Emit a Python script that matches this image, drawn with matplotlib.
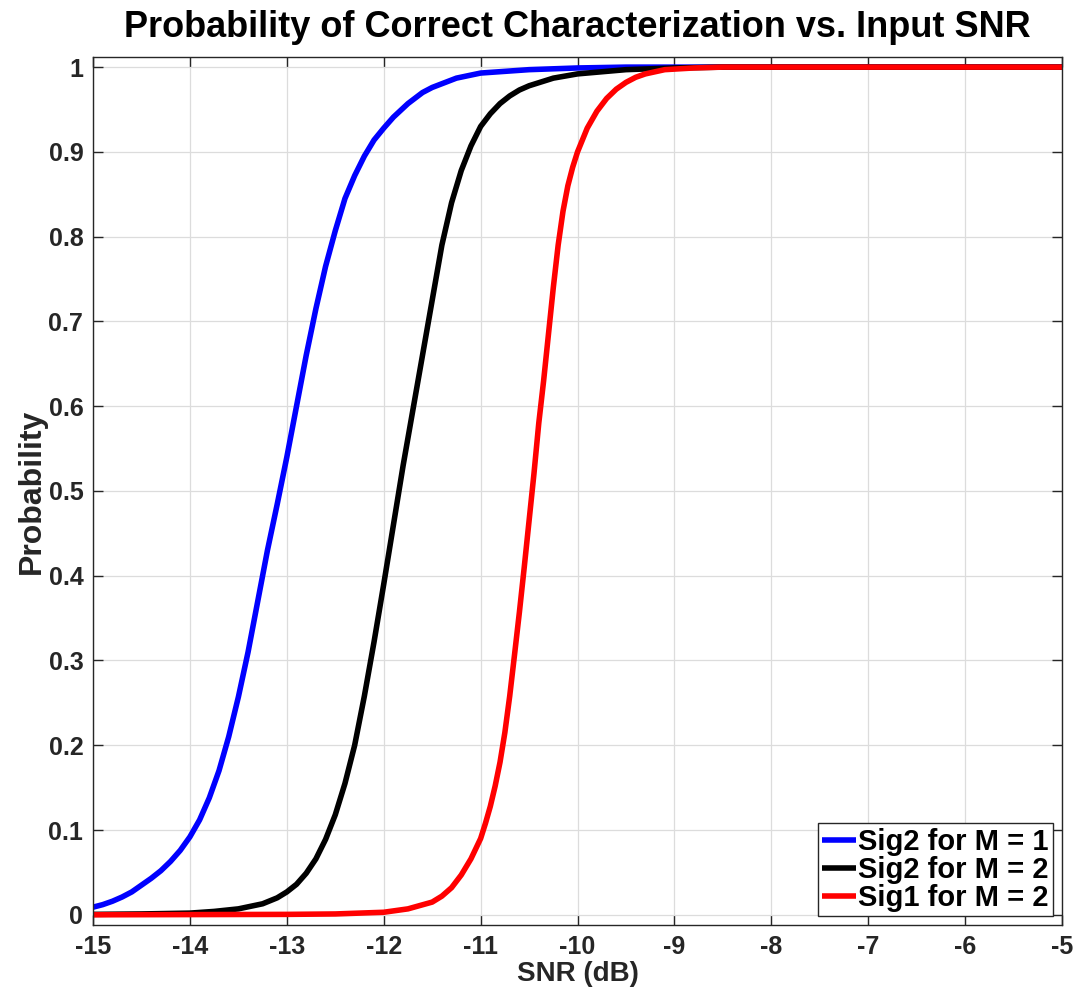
import matplotlib
matplotlib.use("Agg")
import matplotlib.pyplot as plt

# curvas (SNR en dB, probabilidad)
snr_sig2_m1 = [-15.0, -14.9, -14.8, -14.7, -14.6, -14.5, -14.4, -14.3, -14.2, -14.1,
               -14.0, -13.9, -13.8, -13.7, -13.6, -13.5, -13.4, -13.3, -13.2, -13.1,
               -13.0, -12.9, -12.8, -12.7, -12.6, -12.5, -12.4, -12.3, -12.2, -12.1,
               -12.0, -11.9, -11.75, -11.6, -11.5, -11.25, -11.0, -10.75, -10.5,
               -10.0, -9.5, -9.0, -5.0]
prob_sig2_m1 = [0.009, 0.012, 0.016, 0.021, 0.027, 0.035, 0.043, 0.052, 0.063, 0.076,
                0.092, 0.112, 0.138, 0.17, 0.21, 0.257, 0.31, 0.37, 0.43, 0.484,
                0.54, 0.6, 0.66, 0.715, 0.765, 0.807, 0.845, 0.872, 0.895, 0.914,
                0.928, 0.941, 0.957, 0.97, 0.976, 0.987, 0.993, 0.995, 0.997,
                0.999, 1.0, 1.0, 1.0]

snr_sig2_m2 = [-15.0, -14.5, -14.0, -13.75, -13.5, -13.25, -13.1, -13.0, -12.9, -12.8,
               -12.7, -12.6, -12.5, -12.4, -12.3, -12.2, -12.1, -12.0, -11.9, -11.8,
               -11.7, -11.6, -11.5, -11.4, -11.3, -11.2, -11.1, -11.0, -10.9, -10.8,
               -10.7, -10.6, -10.5, -10.25, -10.0, -9.5, -9.0, -8.5, -5.0]
prob_sig2_m2 = [0.0005, 0.001, 0.002, 0.004, 0.007, 0.013, 0.02, 0.027, 0.036, 0.049,
                0.066, 0.089, 0.118, 0.155, 0.2, 0.258, 0.322, 0.39, 0.46, 0.53,
                0.595, 0.66, 0.725, 0.79, 0.84, 0.878, 0.907, 0.93, 0.945, 0.957,
                0.966, 0.973, 0.978, 0.987, 0.992, 0.997, 0.999, 1.0, 1.0]

snr_sig1_m2 = [-15.0, -13.0, -12.5, -12.0, -11.75, -11.5, -11.4, -11.3, -11.2, -11.1,
               -11.0, -10.95, -10.9, -10.85, -10.8, -10.75, -10.7, -10.65, -10.6, -10.55,
               -10.5, -10.45, -10.4, -10.35, -10.3, -10.25, -10.2, -10.15, -10.1, -10.05,
               -10.0, -9.9, -9.8, -9.7, -9.6, -9.5, -9.4, -9.3, -9.1, -8.8, -8.5, -5.0]
prob_sig1_m2 = [0.0, 0.0005, 0.001, 0.003, 0.007, 0.015, 0.022, 0.032, 0.047, 0.066,
                0.09, 0.108, 0.128, 0.152, 0.18, 0.215, 0.258, 0.307, 0.357, 0.41,
                0.465, 0.52, 0.58, 0.63, 0.685, 0.74, 0.79, 0.83, 0.86, 0.882,
                0.9, 0.928, 0.948, 0.963, 0.974, 0.982, 0.988, 0.992, 0.997, 0.999,
                1.0, 1.0]

etiquetas = ['Sig2 for M = 1', 'Sig2 for M = 2', 'Sig1 for M = 2']
colores = ['#0000ff', '#000000', '#ff0000']

x_ticks = list(range(-15, -4))
y_ticks = [0, 0.1, 0.2, 0.3, 0.4, 0.5, 0.6, 0.7, 0.8, 0.9, 1]
y_tick_labels = ['0', '0.1', '0.2', '0.3', '0.4', '0.5', '0.6', '0.7', '0.8', '0.9', '1']

plt.rcParams['font.family'] = ['Liberation Sans', 'DejaVu Sans']
plt.rcParams['font.weight'] = 'bold'

gris = '#262626'

fig = plt.figure(figsize=(10.78, 9.99), dpi=100)
ax = fig.add_axes([0.0863, 0.0741, 0.8989, 0.8689])

series = [(snr_sig2_m1, prob_sig2_m1), (snr_sig2_m2, prob_sig2_m2), (snr_sig1_m2, prob_sig1_m2)]
for (xs, ys), etiqueta, color in zip(series, etiquetas, colores):
    ax.plot(xs, ys, color=color, linewidth=4, label=etiqueta,
            solid_capstyle='butt', solid_joinstyle='round')

ax.set_xlim(-15, -5)
ax.set_ylim(-0.012, 1.012)
ax.set_xticks(x_ticks)
ax.set_xticklabels([str(t) for t in x_ticks])
ax.set_yticks(y_ticks)
ax.set_yticklabels(y_tick_labels)

ax.grid(True, color='#dcdcdc', linewidth=0.9)
ax.set_axisbelow(True)
ax.tick_params(direction='in', length=7, width=1, color=gris, labelcolor=gris,
               labelsize=18, top=True, right=True, pad=7)
for s in ax.spines.values():
    s.set_color(gris)
    s.set_linewidth(1)

ax.set_title('Probability of Correct Characterization vs. Input SNR',
             fontsize=26, fontweight='bold', pad=14)
ax.set_xlabel('SNR (dB)', fontsize=20, fontweight='bold', color=gris, labelpad=2)
ax.set_ylabel('Probability', fontsize=23, fontweight='bold', color=gris, labelpad=1)

leg = ax.legend(loc='lower right', fontsize=21, handlelength=1.15, handletextpad=0.1,
                borderpad=0.15, labelspacing=0.0, borderaxespad=0.3,
                fancybox=False, framealpha=1, edgecolor=gris)
leg.get_frame().set_linewidth(1)

fig.savefig('out.png', dpi=100)
